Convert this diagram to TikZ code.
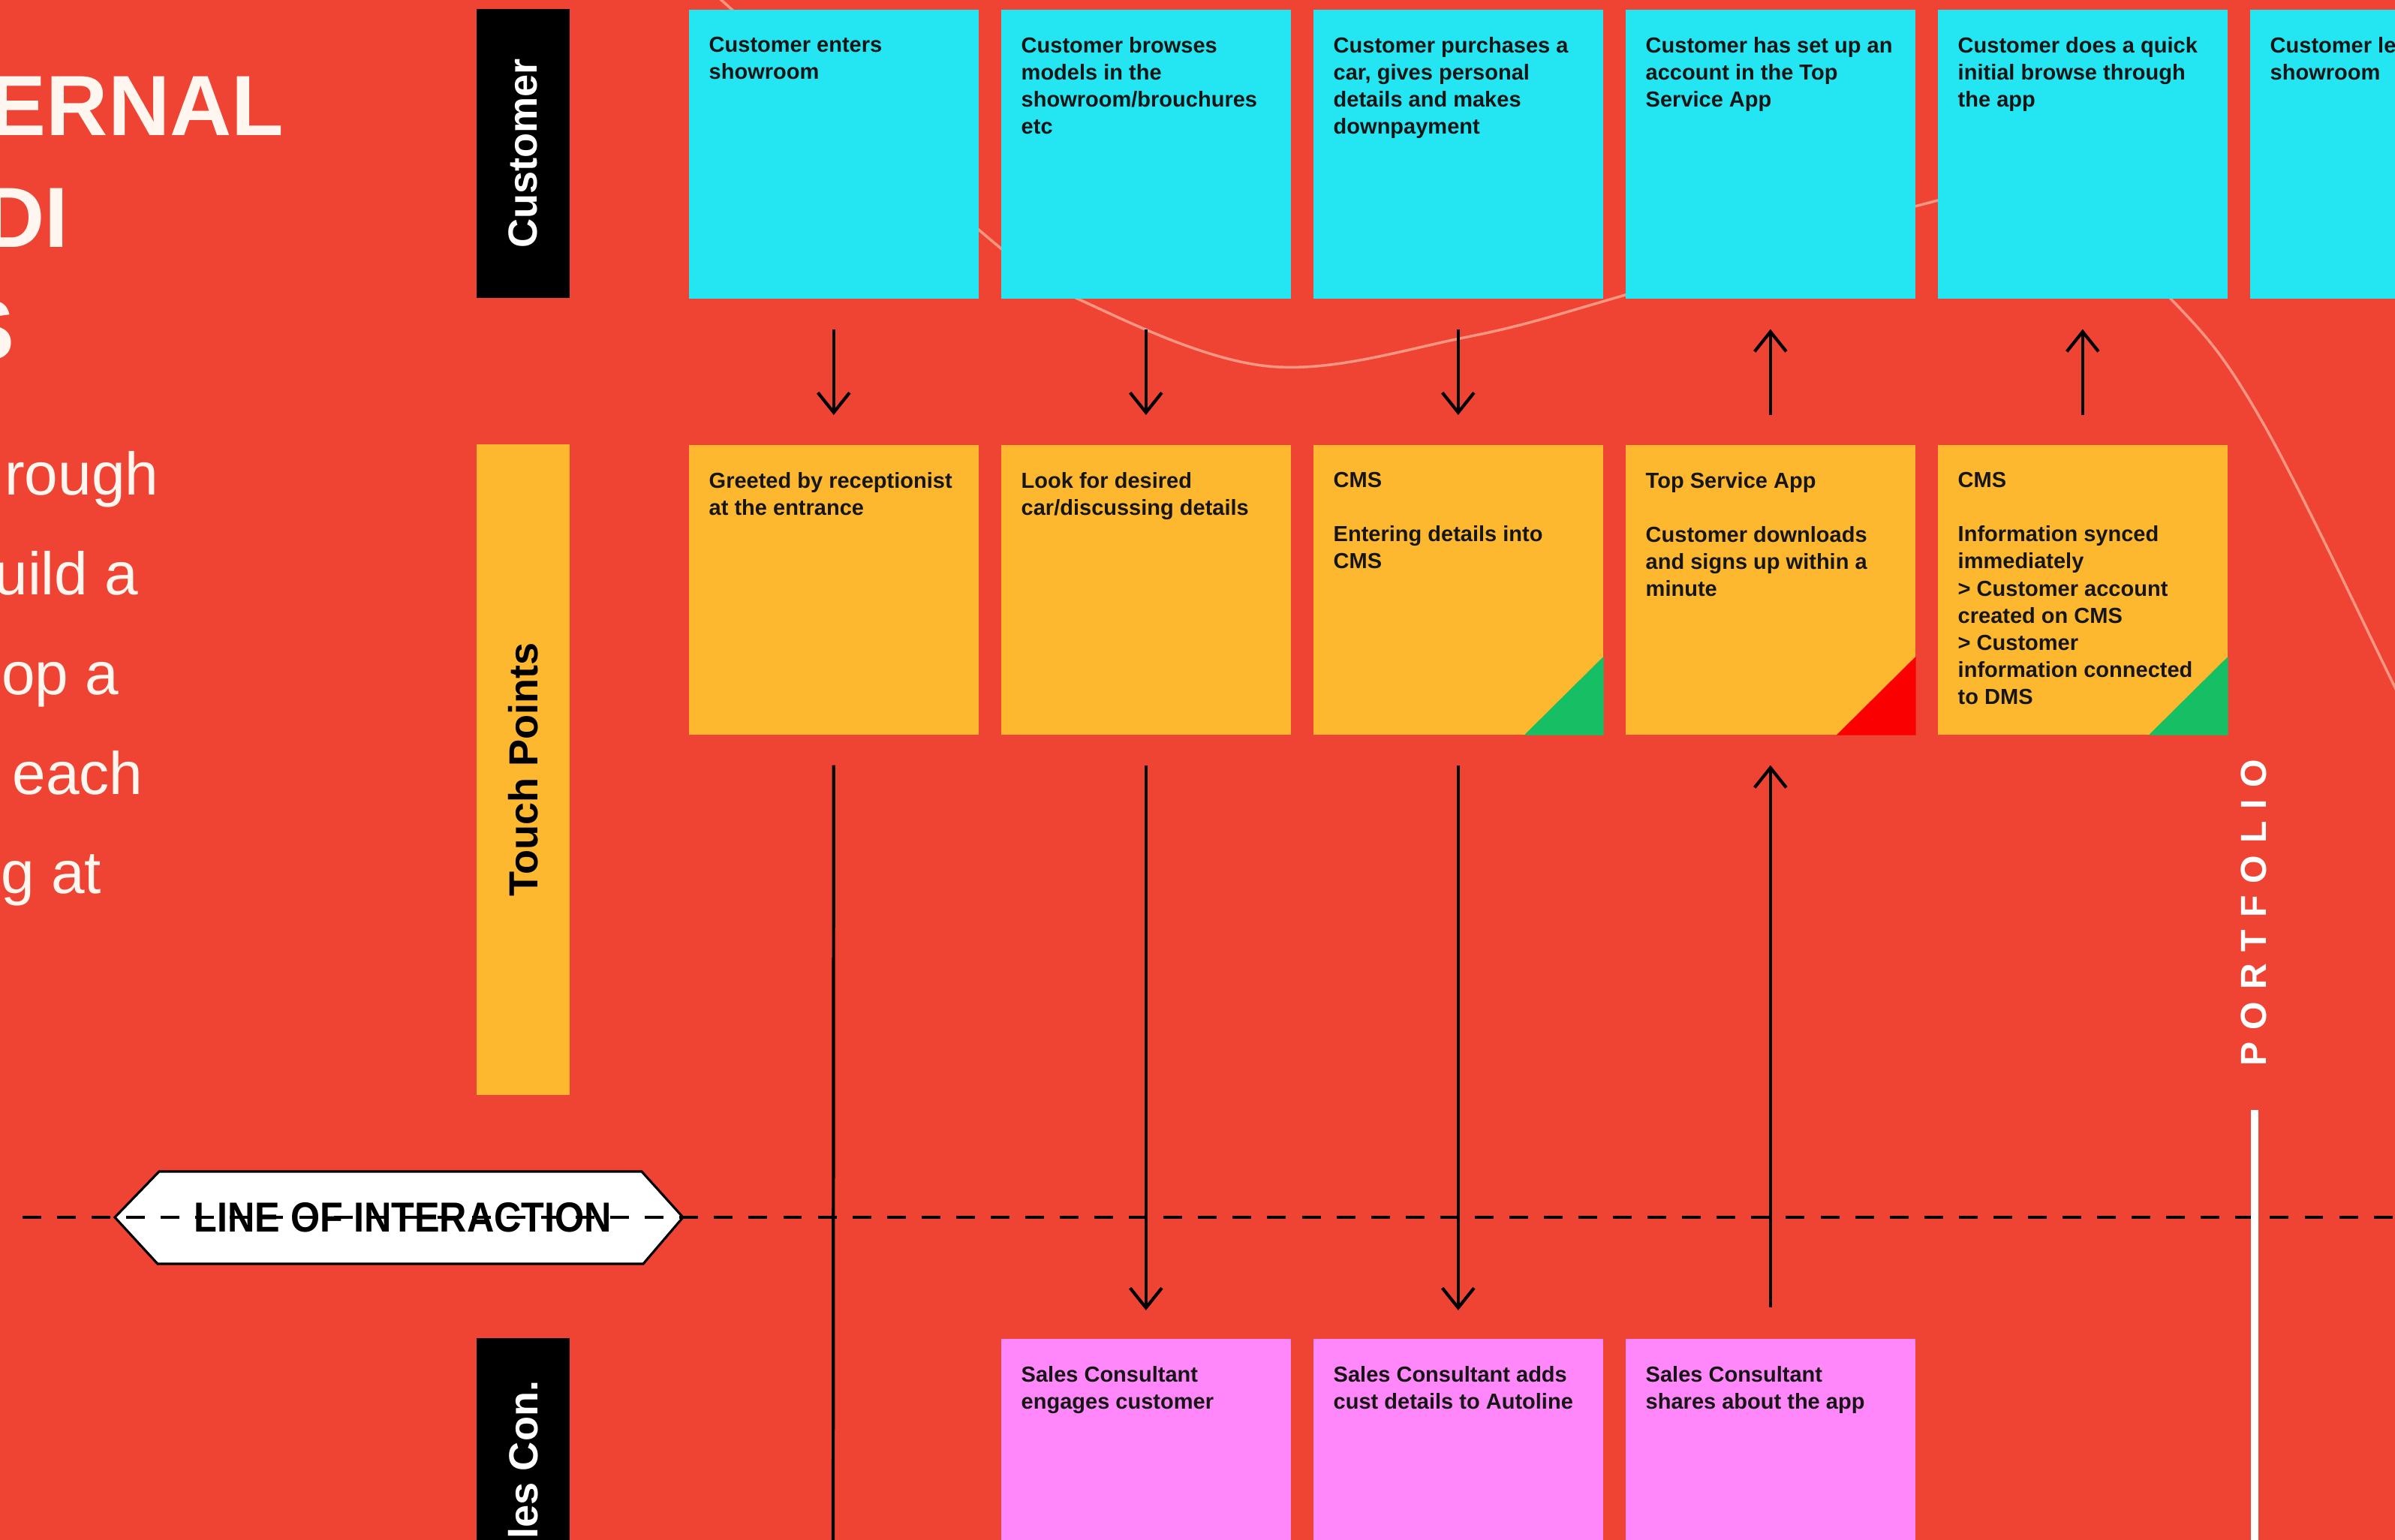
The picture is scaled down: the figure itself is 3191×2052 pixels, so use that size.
\documentclass[tikz,border=0pt]{standalone}
\usepackage{fontspec}
\setmainfont{Liberation Sans}
\newfontfamily\portfont{Liberation Sans}[LetterSpace=33]
\newfontfamily\loifont{Liberation Sans}[FakeStretch=0.9]
\usetikzlibrary{arrows.meta}
\definecolor{bg}{RGB}{239,68,51}
\definecolor{ccyan}{RGB}{35,230,242}
\definecolor{corange}{RGB}{253,184,48}
\definecolor{cpink}{RGB}{255,135,250}
\definecolor{cgreen}{RGB}{22,190,100}
\definecolor{cred}{RGB}{250,0,0}
\definecolor{cream}{RGB}{255,246,240}
\definecolor{faint}{RGB}{247,150,130}
\definecolor{txt}{RGB}{22,22,22}
\begin{document}
\begin{tikzpicture}[x=0.01cm, y=-0.01cm,
  card/.style={inner sep=0, anchor=north west, minimum width=3.86cm, minimum height=3.86cm},
  ctext/.style={anchor=north west, inner sep=0, align=left, text=txt, font=\bfseries\fontsize{8.25}{10.24}\selectfont},
  lane/.style={rotate=90, inner sep=0, minimum height=1.24cm, font=\bfseries\fontsize{15.4}{18}\selectfont},
  flow/.style={line width=1.2pt, draw=black, -{Straight Barb[length=7.5pt,width=12pt]}},
  plainline/.style={line width=1.2pt, draw=black},
  big/.style={anchor=base east, inner sep=0, text=cream, font=\bfseries\fontsize{32.4}{36}\selectfont},
  body/.style={anchor=base east, inner sep=0, text=cream, font=\fontsize{22.8}{26}\selectfont}
]
\useasboundingbox (0,0) rectangle (3191,2052);
\clip (0,0) rectangle (3191,2052);
\fill[bg] (0,0) rectangle (3191,2052);

% faint decorative curve
\draw[faint, line width=1pt] plot[smooth, tension=0.6] coordinates {(950,-10) (1318,318) (1440,400) (1690,488) (1950,450) (2162,394) (2555,274) (2720,255) (2893,399) (3013,560) (3191,916) (3230,1000)};

% left title and body text
\node[big] (h1) at (379,181) {ERNAL};
\node[big] (h2) at (92,330) {DI};
\node[big] (h3) at (20,479) {S};
\node[body] (b1) at (212,659) {rough};
\node[body] (b2) at (185,792) {uild a};
\node[body] (b3) at (159,925) {op a};
\node[body] (b4) at (191,1058) {each};
\node[body] (b5) at (136,1190) {g at};

% lane labels
\node[lane, fill=black, text=white, minimum width=3.85cm] (lc) at (697,204.5) {Customer};
\node[lane, fill=corange, text=black, minimum width=8.67cm] (lt) at (697,1025.5) {Touch Points};
\node[lane, fill=black, text=white, minimum width=3.24cm] (ls) at (697,1945) {les Con.};

% customer cards
\foreach \i/\x in {1/917,2/1333,3/1749,4/2165,5/2581,6/2997}
  \node[card, fill=ccyan, minimum height=3.85cm] (c\i) at (\x,12) {};
\node[ctext] (c1x) at ([shift={(27,37)}]c1.north west) {Customer enters\\showroom};
\node[ctext] (c2x) at ([shift={(27,37)}]c2.north west) {Customer browses\\models in the\\showroom/brouchures\\etc};
\node[ctext] (c3x) at ([shift={(27,37)}]c3.north west) {Customer purchases a\\car, gives personal\\details and makes\\downpayment};
\node[ctext] (c4x) at ([shift={(27,37)}]c4.north west) {Customer has set up an\\account in the Top\\Service App};
\node[ctext] (c5x) at ([shift={(27,37)}]c5.north west) {Customer does a quick\\initial browse through\\the app};
\node[ctext] (c6x) at ([shift={(27,37)}]c6.north west) {Customer le\\showroom};

% touch point cards
\foreach \i/\x in {1/917,2/1333,3/1749,4/2165,5/2581}
  \node[card, fill=corange] (t\i) at (\x,592) {};
\fill[cgreen] (t3.south east) -- ([shift={(0,-105)}]t3.south east) -- ([shift={(-106,0)}]t3.south east) -- cycle;
\fill[cred] (t4.south east) -- ([shift={(0,-105)}]t4.south east) -- ([shift={(-106,0)}]t4.south east) -- cycle;
\fill[cgreen] (t5.south east) -- ([shift={(0,-105)}]t5.south east) -- ([shift={(-106,0)}]t5.south east) -- cycle;
\node[ctext] (t1x) at ([shift={(27,37)}]t1.north west) {Greeted by receptionist\\at the entrance};
\node[ctext] (t2x) at ([shift={(27,37)}]t2.north west) {Look for desired\\car/discussing details};
\node[ctext] (t3x) at ([shift={(27,37)}]t3.north west) {CMS\\\mbox{}\\Entering details into\\CMS};
\node[ctext] (t4x) at ([shift={(27,37)}]t4.north west) {Top Service App\\\mbox{}\\Customer downloads\\and signs up within a\\minute};
\node[ctext] (t5x) at ([shift={(27,37)}]t5.north west) {CMS\\\mbox{}\\Information synced\\immediately\\> Customer account\\created on CMS\\> Customer\\information connected\\to DMS};

% sales consultant cards
\foreach \i/\x in {2/1333,3/1749,4/2165}
  \node[card, fill=cpink] (s\i) at (\x,1783) {};
\node[ctext] (s2x) at ([shift={(27,37)}]s2.north west) {Sales Consultant\\engages customer};
\node[ctext] (s3x) at ([shift={(27,37)}]s3.north west) {Sales Consultant adds\\cust details to Autoline};
\node[ctext] (s4x) at ([shift={(27,37)}]s4.north west) {Sales Consultant\\shares about the app};

% upper arrows
\draw[flow, shorten <=0.4cm, shorten >=0.39cm] (c1.south) -- (t1.north);
\draw[flow, shorten <=0.4cm, shorten >=0.39cm] (c2.south) -- (t2.north);
\draw[flow, shorten <=0.4cm, shorten >=0.39cm] (c3.south) -- (t3.north);
\draw[flow, shorten <=0.39cm, shorten >=0.4cm] (t4.north) -- (c4.south);
\draw[flow, shorten <=0.39cm, shorten >=0.4cm] (t5.north) -- (c5.south);

% lower connectors
\coordinate (bot1) at (1110,2070);
\draw[plainline, shorten <=0.4cm] (t1.south) -- (bot1);
\draw[flow, shorten <=0.4cm, shorten >=0.37cm] (t2.south) -- (s2.north);
\draw[flow, shorten <=0.4cm, shorten >=0.37cm] (t3.south) -- (s3.north);
\draw[flow, shorten <=0.41cm, shorten >=0.4cm] (s4.north) -- (t4.south);

% line of interaction
\draw[fill=white, line width=0.9pt, line join=miter] (153,1622) -- (212,1561) -- (855,1561) -- (910,1622) -- (857,1684) -- (210,1684) -- cycle;
\node[inner sep=0, font=\loifont\bfseries\fontsize{15.9}{18}\selectfont] (loi) at (537,1622) {LINE OF INTERACTION};
\coordinate (dl) at (30,1622);
\coordinate (dr) at (3210,1622);
\draw[line width=1.4pt, dash pattern=on 7.1pt off 6pt] (dl) -- (dr);

% portfolio
\node[rotate=90, inner sep=0, text=white, font=\portfont\bfseries\fontsize{13.7}{16}\selectfont] (pf) at (3003,1216) {PORTFOLIO};
\coordinate (pla) at (3004,1479);
\coordinate (plb) at (3004,2070);
\draw[white, line width=2.8pt] (pla) -- (plb);
\end{tikzpicture}
\end{document}
